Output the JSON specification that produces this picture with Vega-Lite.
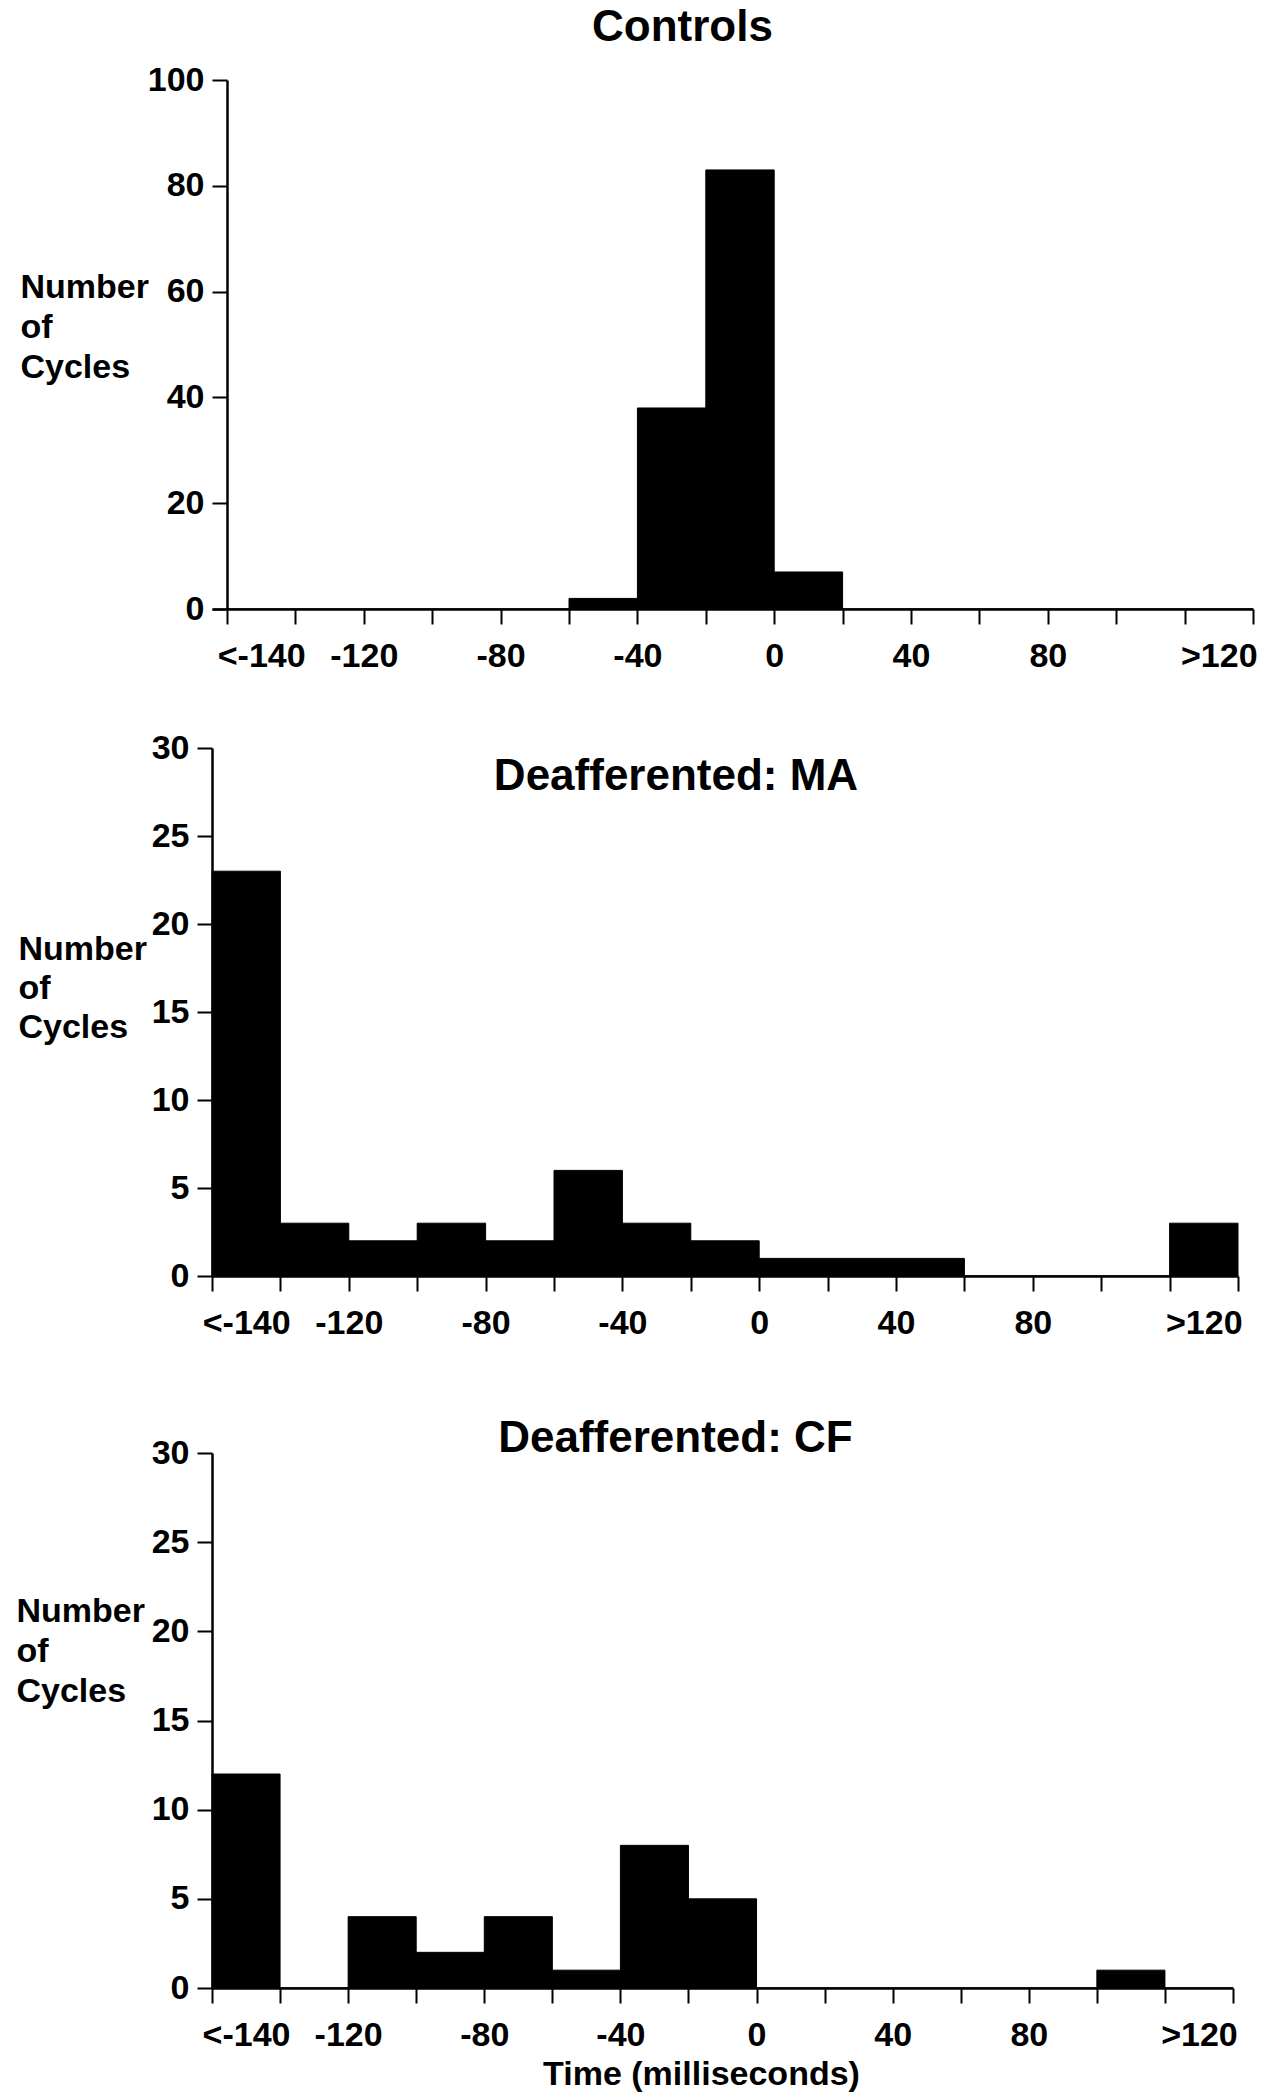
{
  "$schema": "https://vega.github.io/schema/vega-lite/v6.json",
  "background": "white",
  "padding": {"left": 16, "top": 6, "right": 5, "bottom": 5},
  "config": {
    "view": {"stroke": null},
    "font": "Liberation Sans",
    "axis": {
      "domainColor": "black", "domainWidth": 2.5,
      "tickColor": "black", "tickWidth": 2, "tickSize": 15,
      "labelFont": "Liberation Sans", "labelFontSize": 34, "labelFontWeight": "bold", "labelColor": "black",
      "titleFont": "Liberation Sans", "titleFontSize": 34, "titleFontWeight": "bold", "titleColor": "black",
      "grid": false, "labelOverlap": false, "labelFlush": false
    },
    "title": {"font": "Liberation Sans", "fontSize": 44, "fontWeight": "bold", "color": "black", "frame": "group", "anchor": "middle"}
  },
  "datasets": {
    "hist": [
      {"panel": "Controls", "start": -160, "end": -140, "count": 0},
      {"panel": "Controls", "start": -140, "end": -120, "count": 0},
      {"panel": "Controls", "start": -120, "end": -100, "count": 0},
      {"panel": "Controls", "start": -100, "end": -80, "count": 0},
      {"panel": "Controls", "start": -80, "end": -60, "count": 0},
      {"panel": "Controls", "start": -60, "end": -40, "count": 2},
      {"panel": "Controls", "start": -40, "end": -20, "count": 38},
      {"panel": "Controls", "start": -20, "end": 0, "count": 83},
      {"panel": "Controls", "start": 0, "end": 20, "count": 7},
      {"panel": "Controls", "start": 20, "end": 40, "count": 0},
      {"panel": "Controls", "start": 40, "end": 60, "count": 0},
      {"panel": "Controls", "start": 60, "end": 80, "count": 0},
      {"panel": "Controls", "start": 80, "end": 100, "count": 0},
      {"panel": "Controls", "start": 100, "end": 120, "count": 0},
      {"panel": "Controls", "start": 120, "end": 140, "count": 0},
      {"panel": "MA", "start": -160, "end": -140, "count": 23},
      {"panel": "MA", "start": -140, "end": -120, "count": 3},
      {"panel": "MA", "start": -120, "end": -100, "count": 2},
      {"panel": "MA", "start": -100, "end": -80, "count": 3},
      {"panel": "MA", "start": -80, "end": -60, "count": 2},
      {"panel": "MA", "start": -60, "end": -40, "count": 6},
      {"panel": "MA", "start": -40, "end": -20, "count": 3},
      {"panel": "MA", "start": -20, "end": 0, "count": 2},
      {"panel": "MA", "start": 0, "end": 20, "count": 1},
      {"panel": "MA", "start": 20, "end": 40, "count": 1},
      {"panel": "MA", "start": 40, "end": 60, "count": 1},
      {"panel": "MA", "start": 60, "end": 80, "count": 0},
      {"panel": "MA", "start": 80, "end": 100, "count": 0},
      {"panel": "MA", "start": 100, "end": 120, "count": 0},
      {"panel": "MA", "start": 120, "end": 140, "count": 3},
      {"panel": "CF", "start": -160, "end": -140, "count": 12},
      {"panel": "CF", "start": -140, "end": -120, "count": 0},
      {"panel": "CF", "start": -120, "end": -100, "count": 4},
      {"panel": "CF", "start": -100, "end": -80, "count": 2},
      {"panel": "CF", "start": -80, "end": -60, "count": 4},
      {"panel": "CF", "start": -60, "end": -40, "count": 1},
      {"panel": "CF", "start": -40, "end": -20, "count": 8},
      {"panel": "CF", "start": -20, "end": 0, "count": 5},
      {"panel": "CF", "start": 0, "end": 20, "count": 0},
      {"panel": "CF", "start": 20, "end": 40, "count": 0},
      {"panel": "CF", "start": 40, "end": 60, "count": 0},
      {"panel": "CF", "start": 60, "end": 80, "count": 0},
      {"panel": "CF", "start": 80, "end": 100, "count": 0},
      {"panel": "CF", "start": 100, "end": 120, "count": 1},
      {"panel": "CF", "start": 120, "end": 140, "count": 0}
    ]
  },
  "spacing": 77,
  "vconcat": [
    {
      "spacing": 58,
      "vconcat": [
        {
          "width": 1041, "height": 529,
          "title": {"text": "Controls", "dx": -50, "offset": 13},
          "data": {"name": "hist"},
          "transform": [{"filter": "datum.panel == 'Controls'"}],
          "mark": {"type": "bar", "color": "black", "stroke": "black", "strokeWidth": 1},
          "encoding": {
            "x": {
              "field": "start", "type": "quantitative",
              "scale": {"domain": [-164.39, 140], "nice": false, "zero": false},
              "axis": {
                "title": null,
                "values": [-160, -150, -140, -120, -100, -80, -60, -40, -20, 0, 20, 40, 60, 80, 100, 120, 130, 140],
                "labelExpr": "datum.value == -150 ? '<-140' : datum.value == 130 ? '>120' : (datum.value >= -120 && datum.value <= 80 && datum.value % 40 == 0) ? '' + datum.value : ''",
                "tickOpacity": {"condition": {"test": "datum.value == -150 || datum.value == 130", "value": 0}, "value": 1},
                "labelPadding": 15
              }
            },
            "x2": {"field": "end"},
            "y": {
              "field": "count", "type": "quantitative",
              "scale": {"domain": [0, 100], "nice": false},
              "axis": {
                "offset": -15,
                "values": [0, 20, 40, 60, 80, 100],
                "title": ["Number", "of", "Cycles"],
                "titleAngle": 0, "titleAlign": "left", "titleBaseline": "alphabetic",
                "titleX": -207, "titleY": 217, "titleLineHeight": 40,
                "labelPadding": 8
              }
            },
            "y2": {"datum": 0}
          }
        },
        {
          "width": 1026, "height": 528,
          "title": {"text": "Deafferented: MA", "dx": -49, "offset": -68},
          "data": {"name": "hist"},
          "transform": [{"filter": "datum.panel == 'MA'"}],
          "mark": {"type": "bar", "color": "black", "stroke": "black", "strokeWidth": 1},
          "encoding": {
            "x": {
              "field": "start", "type": "quantitative",
              "scale": {"domain": [-160, 140], "nice": false, "zero": false},
              "axis": {
                "title": null,
                "values": [-160, -150, -140, -120, -100, -80, -60, -40, -20, 0, 20, 40, 60, 80, 100, 120, 130, 140],
                "labelExpr": "datum.value == -150 ? '<-140' : datum.value == 130 ? '>120' : (datum.value >= -120 && datum.value <= 80 && datum.value % 40 == 0) ? '' + datum.value : ''",
                "tickOpacity": {"condition": {"test": "datum.value == -150 || datum.value == 130", "value": 0}, "value": 1},
                "labelPadding": 15
              }
            },
            "x2": {"field": "end"},
            "y": {
              "field": "count", "type": "quantitative",
              "scale": {"domain": [0, 30], "nice": false},
              "axis": {
                "values": [0, 5, 10, 15, 20, 25, 30],
                "title": ["Number", "of", "Cycles"],
                "titleAngle": 0, "titleAlign": "left", "titleBaseline": "alphabetic",
                "titleX": -194, "titleY": 211, "titleLineHeight": 39,
                "labelPadding": 8
              }
            },
            "y2": {"datum": 0}
          }
        }
      ]
    },
    {
      "width": 1021, "height": 535,
      "title": {"text": "Deafferented: CF", "dx": -47, "offset": -25},
      "data": {"name": "hist"},
      "transform": [{"filter": "datum.panel == 'CF'"}],
      "mark": {"type": "bar", "color": "black", "stroke": "black", "strokeWidth": 1},
      "encoding": {
        "x": {
          "field": "start", "type": "quantitative",
          "scale": {"domain": [-160, 140], "nice": false, "zero": false},
          "axis": {
            "title": "Time (milliseconds)",
            "titleX": 489, "titleY": 96, "titleAlign": "center", "titleBaseline": "alphabetic",
            "values": [-160, -150, -140, -120, -100, -80, -60, -40, -20, 0, 20, 40, 60, 80, 100, 120, 130, 140],
            "labelExpr": "datum.value == -150 ? '<-140' : datum.value == 130 ? '>120' : (datum.value >= -120 && datum.value <= 80 && datum.value % 40 == 0) ? '' + datum.value : ''",
            "tickOpacity": {"condition": {"test": "datum.value == -150 || datum.value == 130", "value": 0}, "value": 1},
            "labelPadding": 15
          }
        },
        "x2": {"field": "end"},
        "y": {
          "field": "count", "type": "quantitative",
          "scale": {"domain": [0, 30], "nice": false},
          "axis": {
            "values": [0, 5, 10, 15, 20, 25, 30],
            "title": ["Number", "of", "Cycles"],
            "titleAngle": 0, "titleAlign": "left", "titleBaseline": "alphabetic",
            "titleX": -196, "titleY": 168, "titleLineHeight": 40,
            "labelPadding": 8
          }
        },
        "y2": {"datum": 0}
      }
    }
  ]
}
